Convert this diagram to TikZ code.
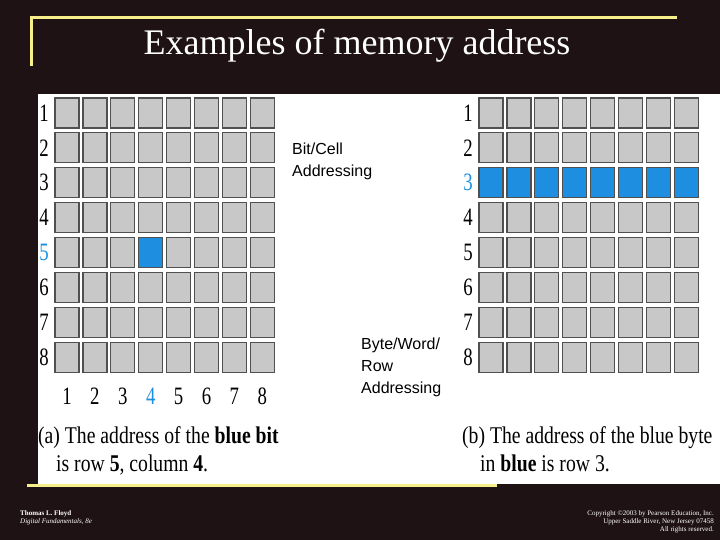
\documentclass[tikz,border=0pt]{standalone}
\usepackage{fontspec}
\setmainfont{Liberation Serif}
\newfontfamily\sansf{Liberation Sans}
\definecolor{bg}{HTML}{1E1214}
\definecolor{yel}{HTML}{F5EE8A}
\definecolor{cellg}{HTML}{C8C8C8}
\definecolor{cellb}{HTML}{1E8FE0}
\definecolor{bord}{HTML}{505050}
\begin{document}
\begin{tikzpicture}[x=1pt,y=-1pt,
  cell/.style={draw=bord,line width=1.2pt,fill=cellg,minimum width=24pt,minimum height=30pt,inner sep=0pt},
  bcell/.style={cell,fill=cellb},
  lab/.style={font=\fontsize{25}{25}\selectfont,inner sep=0pt,xscale=0.75},
  captxt/.style={font=\fontsize{24}{28}\selectfont,align=left,inner sep=0pt,anchor=north west,xscale=0.82},
  note/.style={font=\sansf\fontsize{16}{22}\selectfont,align=left,inner sep=0pt,anchor=west}]
\fill[bg] (0,0) rectangle (720,540);
\useasboundingbox (0,0) rectangle (720,540);
\fill[white] (38,94) rectangle (720,484);
\draw[yel,line width=3pt] (31,66) -- (31,18) -- (677,18);
\draw[yel,line width=3pt] (27,485) -- (497,485);
\node[text=white,font=\fontsize{36}{36}\selectfont] (title) at (357,46) {Examples of memory address};
% left grid
\foreach \r in {1,...,8}{
  \pgfmathsetmacro{\yy}{113+34.9*(\r-1)}
  \ifnum\r=5 \node[lab,text=cellb] (lr\r) at (44,\yy) {\r};\else\node[lab] (lr\r) at (44,\yy) {\r};\fi
  \foreach \c in {1,...,8}{
    \pgfmathsetmacro{\xx}{67+27.9*(\c-1)}
    \ifnum\r=5 \ifnum\c=4 \node[bcell] (a\r\c) at (\xx,\yy) {};\else\node[cell] (a\r\c) at (\xx,\yy) {};\fi
    \else\node[cell] (a\r\c) at (\xx,\yy) {};\fi
  }}
\foreach \c in {1,...,8}{
  \pgfmathsetmacro{\xx}{67+27.9*(\c-1)}
  \ifnum\c=4 \node[lab,text=cellb] (lc\c) at (\xx,396) {\c};\else\node[lab] (lc\c) at (\xx,396) {\c};\fi}
% right grid
\foreach \r in {1,...,8}{
  \pgfmathsetmacro{\yy}{113+34.9*(\r-1)}
  \ifnum\r=3 \node[lab,text=cellb] (rr\r) at (468,\yy) {\r};\else\node[lab] (rr\r) at (468,\yy) {\r};\fi
  \foreach \c in {1,...,8}{
    \pgfmathsetmacro{\xx}{491+27.9*(\c-1)}
    \ifnum\r=3 \node[bcell] (b\r\c) at (\xx,\yy) {};\else\node[cell] (b\r\c) at (\xx,\yy) {};\fi
  }}
\node[note] (n1) at (292,161) {Bit/Cell\\Addressing};
\node[note] (n2) at (361,367) {Byte/Word/\\Row\\Addressing};
\node[captxt] (ca) at (38,426) {(a) The address of the \textbf{blue bit}\\\hspace*{22pt}is row \textbf{5}, column \textbf{4}.};
\node[captxt] (cb) at (462,426) {(b) The address of the blue byte\\\hspace*{22pt}in \textbf{blue} is row 3.};
\node[text=white,font=\fontsize{7}{8}\selectfont,align=left,anchor=north west,inner sep=0pt] (f1) at (20,510) {\textbf{Thomas L. Floyd}\\\textit{Digital Fundamentals, 8e}};
\node[text=white,font=\fontsize{7}{8}\selectfont,align=right,anchor=north east,inner sep=0pt] (f2) at (714,510) {Copyright ©2003 by Pearson Education, Inc.\\Upper Saddle River, New Jersey 07458\\All rights reserved.};
\end{tikzpicture}
\end{document}
